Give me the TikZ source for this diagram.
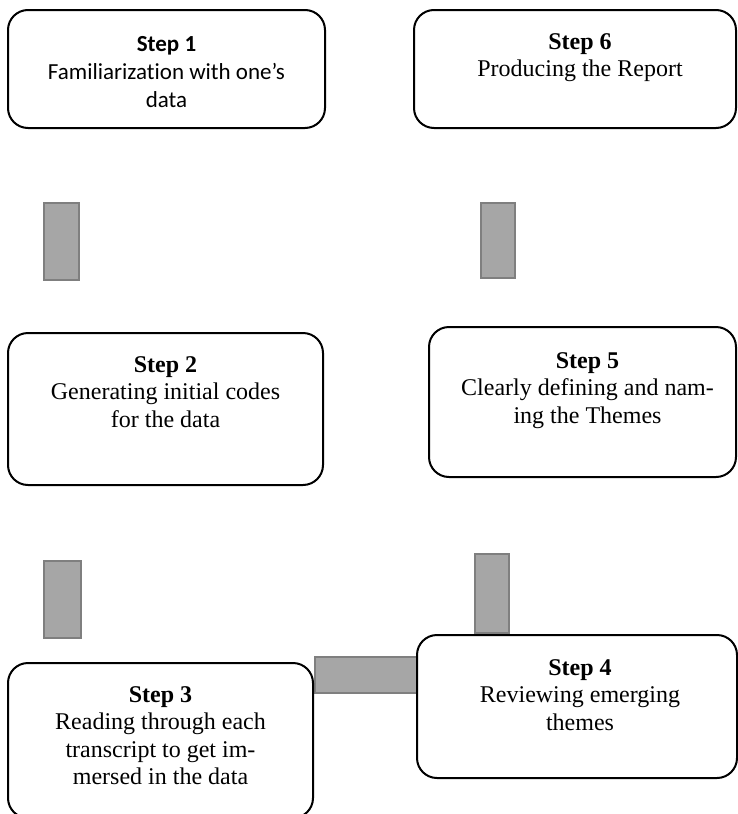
\documentclass[tikz,border=0pt]{standalone}
\usepackage{fontspec}
\setmainfont{Liberation Serif}
\newfontfamily\calibfont[Ligatures=NoCommon]{Carlito}
\begin{document}
\begin{tikzpicture}[x=1pt,y=-1pt,
  stepbox/.style={draw=black, line width=2pt, rounded corners=20pt, fill=white,
    rectangle, inner sep=0pt},
  barbox/.style={draw=barline, fill=barfill, line width=1.6pt, rectangle, inner sep=0pt},
  steptext/.style={anchor=base, inner sep=0pt, font=\fontsize{24}{27.5}\selectfont}
]
\definecolor{barfill}{HTML}{A6A6A6}
\definecolor{barline}{HTML}{7F7F7F}
\newcommand{\lines}[1]{\begin{tabular}[t]{@{}c@{}}#1\end{tabular}}
\useasboundingbox (0,0) rectangle (738,814);
\clip (0,0) rectangle (738,814);

% gray link bars between the steps
\node[barbox, minimum width=35pt, minimum height=77pt] (c12) at (61.5,241.5) {};
\node[barbox, minimum width=37pt, minimum height=77pt] (c23) at (62.5,599.5) {};
\node[barbox, minimum width=102pt, minimum height=36pt] (c34) at (366,675) {};
\node[barbox, minimum width=34pt, minimum height=79pt] (c45) at (492,593.5) {};
\node[barbox, minimum width=34pt, minimum height=75pt] (c56) at (498,240.5) {};

% step boxes
\node[stepbox, minimum width=317pt, minimum height=118pt] (b1) at (166.5,69) {};
\node[stepbox, minimum width=315pt, minimum height=152pt] (b2) at (165.5,409) {};
\node[stepbox, minimum width=305pt, minimum height=155pt] (b3) at (160.5,740.5) {};
\node[stepbox, minimum width=320pt, minimum height=143pt] (b4) at (577,706.5) {};
\node[stepbox, minimum width=307pt, minimum height=150pt] (b5) at (582.5,402) {};
\node[stepbox, minimum width=322pt, minimum height=118pt] (b6) at (575,69) {};

% step texts
\node[steptext, font=\calibfont\fontsize{23}{28}\selectfont] (t1) at ([yshift=-42pt]b1.north)
  {\lines{\textbf{Step 1}\\Familiarization with one’s\\data}};
\node[steptext] (t2) at ([yshift=-40pt]b2.north)
  {\lines{\textbf{Step 2}\\Generating initial codes\\for the data}};
\node[steptext] (t3) at ([yshift=-40pt]b3.north)
  {\lines{\textbf{Step 3}\\Reading through each\\transcript to get im-\\mersed in the data}};
\node[steptext] (t4) at ([yshift=-41pt,xshift=3pt]b4.north)
  {\lines{\textbf{Step 4}\\Reviewing emerging\\themes}};
\node[steptext] (t5) at ([yshift=-42pt,xshift=5pt]b5.north)
  {\lines{\textbf{Step 5}\\Clearly defining and nam-\\ing the Themes}};
\node[steptext] (t6) at ([yshift=-40pt,xshift=5pt]b6.north)
  {\lines{\textbf{Step 6}\\Producing the Report}};
\end{tikzpicture}
\end{document}
